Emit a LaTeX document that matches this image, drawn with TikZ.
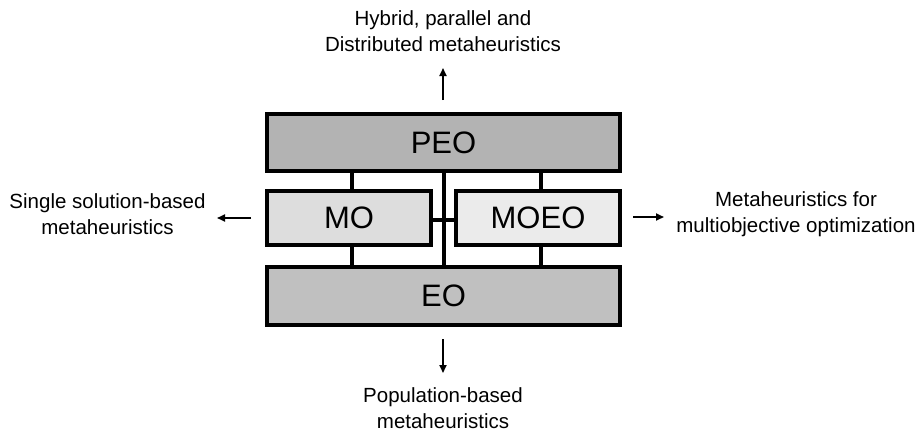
\documentclass[tikz,border=0pt]{standalone}
\usepackage{fontspec}
\setmainfont{Liberation Sans}
\usetikzlibrary{arrows.meta}
\definecolor{peoc}{HTML}{B3B3B3}
\definecolor{moc}{HTML}{DDDDDD}
\definecolor{moeoc}{HTML}{EBEBEB}
\definecolor{eoc}{HTML}{C0C0C0}
\begin{document}
\begin{tikzpicture}[x=1pt,y=-1pt,
  boxnode/.style={draw=black,line width=4pt,inner sep=0pt,font=\fontsize{31}{36}\selectfont},
  conn/.style={line width=4pt},
  arr/.style={line width=1.8pt,-{Triangle[length=8pt,width=7pt]}},
  lbl/.style={align=center,inner sep=0pt,font=\fontsize{20.5}{25.5}\selectfont}]
\useasboundingbox (0,0) rectangle (921,432);
\node[boxnode,fill=peoc,minimum width=353pt,minimum height=57pt] (PEO) at (443.5,142.5) {PEO};
\node[boxnode,fill=moc,minimum width=164pt,minimum height=54pt] (MO) at (349,218) {MO};
\node[boxnode,fill=moeoc,minimum width=164pt,minimum height=54pt] (MOEO) at (538,218) {MOEO};
\node[boxnode,fill=eoc,minimum width=353pt,minimum height=58pt] (EO) at (443.5,296) {EO};
\coordinate (xl) at (352,0);
\coordinate (xr) at (541,0);
\coordinate (xc) at (443.5,0);
\coordinate (yh) at (0,220);
\draw[conn] (PEO.south -| xl) -- (MO.north -| xl);
\draw[conn] (MO.south -| xl) -- (EO.north -| xl);
\draw[conn] (PEO.south -| xr) -- (MOEO.north -| xr);
\draw[conn] (MOEO.south -| xr) -- (EO.north -| xr);
\draw[conn] (PEO.south -| xc) -- (EO.north -| xc);
\draw[conn] (MO.east |- yh) -- (MOEO.west |- yh);
\node[lbl] (top) at (443,31) {Hybrid, parallel and\\Distributed metaheuristics};
\node[lbl] (left) at (107.5,214) {Single solution-based\\metaheuristics};
\node[lbl] (right) at (796,214) {Metaheuristics for\\multiobjective optimization};
\node[lbl] (bot) at (443,408) {Population-based\\metaheuristics};
\coordinate (ta) at (443,100);
\coordinate (tb) at (443,68);
\coordinate (la) at (251,218);
\coordinate (lb) at (217,218);
\coordinate (ra) at (633,217);
\coordinate (rb) at (664,217);
\coordinate (ba) at (443,339);
\coordinate (bb) at (443,373);
\draw[arr] (ta) -- (tb);
\draw[arr] (la) -- (lb);
\draw[arr] (ra) -- (rb);
\draw[arr] (ba) -- (bb);
\end{tikzpicture}
\end{document}
